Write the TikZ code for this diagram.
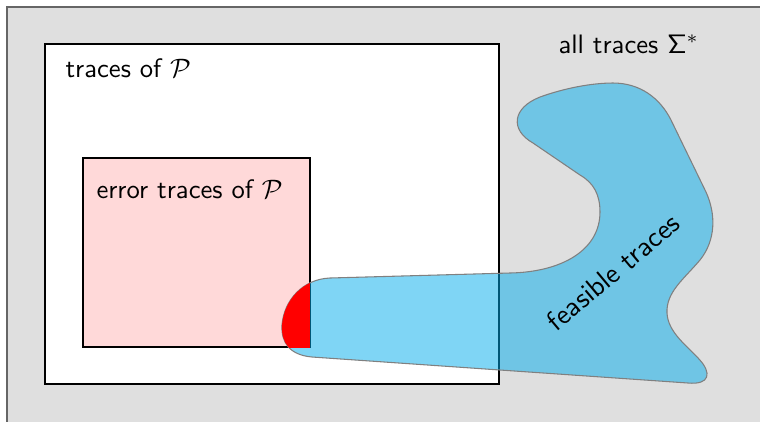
\documentclass[tikz,border=0pt]{standalone}
\usepackage{amsmath,amssymb}
\definecolor{feasible}{RGB}{0,172,236}

\begin{document}
\begin{tikzpicture}[x=0.375pt,y=-0.375pt,font=\sffamily,
  univ/.style={fill=gray!25,draw=black!60,line width=0.6pt},
  progbox/.style={fill=white,draw=black,line width=0.4pt},
  errbox/.style={fill=red!15,draw=black,line width=0.4pt},
  blob/.style={fill=feasible,fill opacity=0.5,draw=black!50,line width=0.4pt},
  lbl/.style={anchor=base west,inner sep=0pt}]
  \clip (0,0) rectangle (760,421);
  % all traces, running off the page
  \path[univ] (7,7) rectangle (800,460);
  \node[lbl] (all) at (558,53) {all traces $\mathsf{\Sigma}^*$};
  % traces of the program and its error traces
  \path[progbox] (45,44) rectangle (499,384);
  \node[lbl] (prog) at (65,77) {traces of $\mathcal{P}$};
  \path[errbox] (83,158) rectangle (310,347);
  \node[lbl] (err) at (96,198) {error traces of $\mathcal{P}$};
  % the feasible traces, a free blob
  \path[blob,save path=\feaspath] (330,278) -- (510,273)
    .. controls (562,272) and (600,250) .. (600,212)
    .. controls (600,195) and (594,183) .. (580,175)
    -- (533,143)
    .. controls (510,130) and (512,108) .. (540,97)
    .. controls (565,88) and (592,83) .. (613,83)
    .. controls (640,83) and (660,98) .. (671,120)
    -- (706,192)
    .. controls (716,214) and (716,240) .. (700,260)
    .. controls (684,279) and (666,292) .. (667,313)
    .. controls (668,332) and (686,345) .. (699,359)
    .. controls (712,373) and (710,385) .. (688,383)
    -- (312,357)
    .. controls (290,355) and (281,343) .. (282,325)
    .. controls (284,300) and (303,279) .. (330,278) -- cycle;
  \begin{scope}
    \clip (83,158) rectangle (310,347);
    \fill[red,use path=\feaspath];
  \end{scope}
  \node[rotate=40,scale=1.05] (feas) at (613,272) {feasible traces};
\end{tikzpicture}
\end{document}
